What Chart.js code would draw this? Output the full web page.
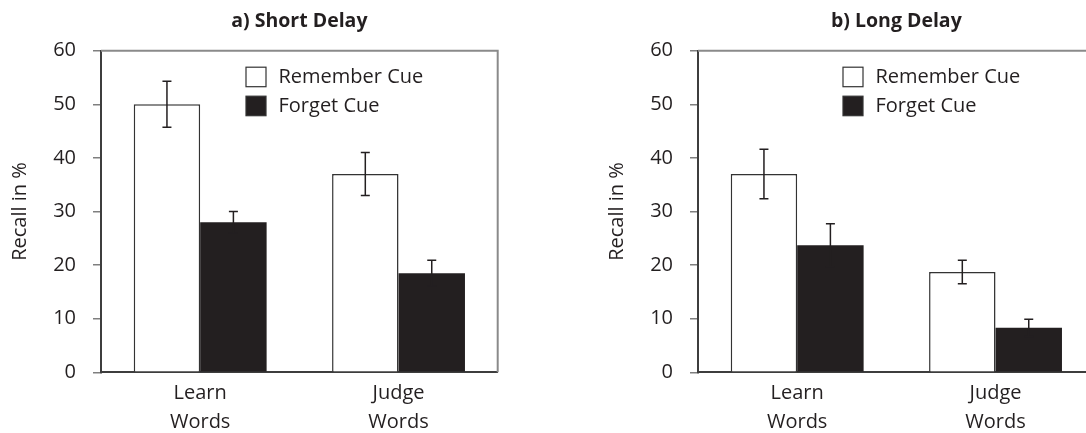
<!DOCTYPE html>
<html>
<head>
<meta charset="utf-8">
<script src="https://cdn.jsdelivr.net/npm/chart.js@4.4.0/dist/chart.umd.min.js"></script>
<style>
  html, body { margin: 0; padding: 0; background: #fff; }
  body { width: 1086px; height: 433px; overflow: hidden; position: relative; }
  .panel { position: absolute; top: 0; width: 599px; height: 433px; }
</style>
</head>
<body>
<div class="panel" style="left:0"><canvas id="shortChart" width="599" height="433"></canvas></div>
<div class="panel" style="left:597px"><canvas id="longChart" width="599" height="433"></canvas></div>
<script>
// values
var categories = [['Learn', 'Words'], ['Judge', 'Words']];
var seriesNames = ['Remember Cue', 'Forget Cue'];

var shortRemember = [50, 37];
var shortRememberErr = [4.3, 4.0];
var shortForget = [28, 18.5];
var shortForgetErr = [2.0, 2.4];

var longRemember = [37, 18.7];
var longRememberErr = [4.6, 2.2];
var longForget = [23.7, 8.3];
var longForgetErr = [4.0, 1.6];

var yMin = 0, yMax = 60, yStep = 10;

var ink = '#231f20';
Chart.defaults.font.family = '"Open Sans", sans-serif';
Chart.defaults.color = ink;

// error bars, plot frame, inner legend and centred title
var decor = {
    id: 'decor',
    afterDatasetsDraw: function(chart, args, opts) {
        var ctx = chart.ctx, area = chart.chartArea, y = chart.scales.y;
        ctx.save();

        ctx.strokeStyle = ink;
        ctx.lineWidth = 1.5;
        chart.data.datasets.forEach(function(ds, i) {
            chart.getDatasetMeta(i).data.forEach(function(bar, j) {
                var hi = y.getPixelForValue(ds.data[j] + ds.errors[j]);
                var lo = y.getPixelForValue(ds.data[j] - ds.errors[j]);
                ctx.beginPath();
                ctx.moveTo(bar.x, hi); ctx.lineTo(bar.x, lo);
                ctx.moveTo(bar.x - 4.5, hi); ctx.lineTo(bar.x + 4.5, hi);
                ctx.moveTo(bar.x - 4.5, lo); ctx.lineTo(bar.x + 4.5, lo);
                ctx.stroke();
            });
        });

        // top and right edges of the box
        ctx.strokeStyle = '#8a8a8a';
        ctx.lineWidth = 2;
        ctx.beginPath();
        ctx.moveTo(area.left, area.top);
        ctx.lineTo(area.right, area.top);
        ctx.lineTo(area.right, area.bottom);
        ctx.stroke();

        // legend
        ctx.font = '20px "Open Sans", sans-serif';
        ctx.textBaseline = 'middle';
        ctx.textAlign = 'left';
        chart.data.datasets.forEach(function(ds, i) {
            var bx = area.left + 145, by = area.top + 16.5 + i * 29;
            ctx.fillStyle = ds.backgroundColor;
            ctx.fillRect(bx, by, 20, 19.5);
            ctx.strokeStyle = '#333';
            ctx.lineWidth = 1.2;
            ctx.strokeRect(bx, by, 20, 19.5);
            ctx.fillStyle = ink;
            ctx.fillText(ds.label, bx + 32.5, by + 10);
        });

        // title over the plot area
        ctx.font = 'bold 19.5px "Open Sans", sans-serif';
        ctx.textAlign = 'center';
        ctx.fillText(opts.title, (area.left + area.right) / 2, 21);

        ctx.restore();
    }
};

function makeChart(id, title, remember, rememberErr, forget, forgetErr) {
    return new Chart(document.getElementById(id), {
        type: 'bar',
        data: {
            labels: categories,
            datasets: [{
                label: seriesNames[0],
                data: remember,
                errors: rememberErr,
                backgroundColor: '#ffffff',
                borderColor: '#333333',
                borderWidth: 1.5,
                borderSkipped: 'bottom'
            }, {
                label: seriesNames[1],
                data: forget,
                errors: forgetErr,
                backgroundColor: ink,
                borderWidth: 0
            }]
        },
        options: {
            responsive: false,
            animation: false,
            devicePixelRatio: 1,
            categoryPercentage: 0.67,
            barPercentage: 1,
            layout: { padding: { top: 50.7, right: 101.3, bottom: 0, left: 0 } },
            plugins: {
                legend: { display: false },
                title: { display: false },
                tooltip: { enabled: false },
                decor: { title: title }
            },
            scales: {
                x: {
                    z: 1,
                    grid: { display: false, drawTicks: false },
                    border: { display: true, color: '#3d3d3d', width: 2 },
                    ticks: { font: { size: 20, lineHeight: 1.45 }, padding: 6, color: ink, maxRotation: 0 },
                    afterFit: function(s) { s.height = 60.7; }
                },
                y: {
                    min: yMin,
                    max: yMax,
                    grid: { drawOnChartArea: false, drawTicks: true, tickLength: 8, color: '#7f7f7f', lineWidth: 1.5 },
                    border: { display: true, color: '#3d3d3d', width: 2 },
                    ticks: { stepSize: yStep, font: { size: 20 }, padding: 17, color: ink },
                    title: { display: true, text: 'Recall in %', font: { size: 20 }, padding: { top: 8, bottom: 0 }, color: ink },
                    afterFit: function(s) { s.width = 101; }
                }
            }
        },
        plugins: [decor]
    });
}

makeChart('shortChart', 'a) Short Delay', shortRemember, shortRememberErr, shortForget, shortForgetErr);
makeChart('longChart', 'b) Long Delay', longRemember, longRememberErr, longForget, longForgetErr);
</script>
</body>
</html>
